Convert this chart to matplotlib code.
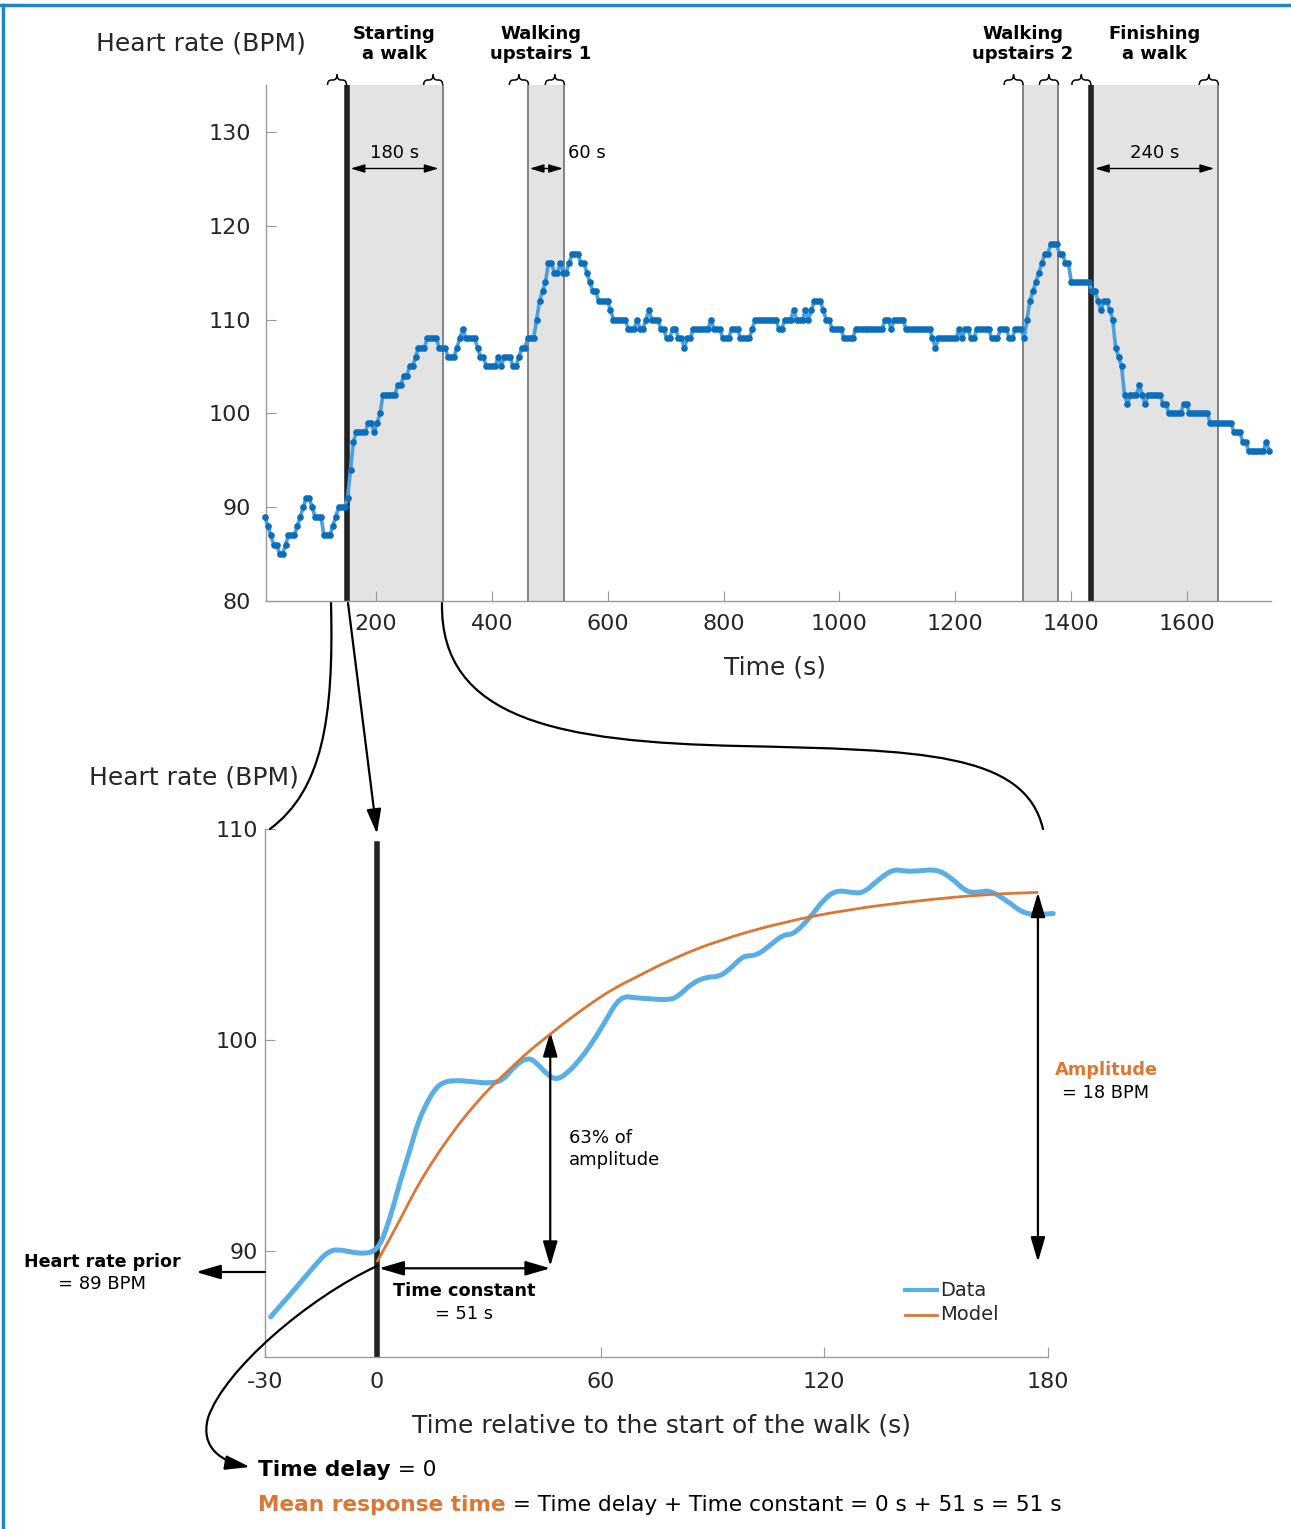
import numpy as np
import matplotlib
matplotlib.use('Agg')
import matplotlib.pyplot as plt
from matplotlib.path import Path
from matplotlib.patches import FancyArrowPatch, PathPatch
from matplotlib.lines import Line2D

W, H = 1291, 1529

# ---- top panel: whole walk, heart rate held at integer levels (level, number of samples)
hr_levels = [89, 88, 87, 86, 85, 86, 87, 88, 89, 90, 91, 90, 89, 87, 88, 89, 90, 91, 94, 97,
             98, 99, 98, 99, 100, 102, 103, 104, 105, 106, 107, 108, 107, 106, 107, 108, 109, 108, 107, 106,
             105, 106, 105, 106, 105, 106, 107, 108, 110, 112, 113, 114, 116, 115, 116, 115, 116, 117,
             116, 115, 114, 113, 112, 111, 110, 109, 110, 109, 110, 111, 110, 109, 108, 109, 108, 107, 108, 109,
             110, 109, 108, 109, 108, 109, 110, 109, 110, 111, 110, 111, 110, 111, 112, 111, 110, 109, 108, 109,
             110, 109, 110, 109, 108, 107, 108, 109, 108, 109, 108, 109, 108, 109, 108, 109, 108,
             110, 112, 113, 114, 115, 116, 117, 118, 117, 116, 114, 113, 112, 111, 112, 111, 110, 107, 106, 105,
             102, 101, 102, 103, 102, 101, 102, 101, 100, 101, 100, 99, 98, 97, 96, 97, 96]
hr_counts = [1, 1, 1, 2, 2, 1, 3, 1, 1, 1, 2, 1, 3, 3, 1, 1, 3, 1, 1, 1,
             4, 2, 1, 1, 1, 5, 2, 2, 2, 1, 3, 4, 3, 3, 1, 1, 1, 4, 1, 2,
             4, 1, 1, 3, 2, 1, 2, 3, 1, 1, 1, 1, 2, 2, 1, 2, 1, 3,
             2, 1, 1, 2, 4, 1, 5, 3, 1, 2, 1, 1, 3, 2, 2, 2, 2, 1, 2, 6,
             1, 3, 3, 3, 4, 1, 8, 2, 3, 1, 3, 1, 1, 1, 3, 1, 2, 4, 4, 10,
             2, 1, 4, 9, 1, 1, 7, 1, 1, 2, 2, 5, 3, 3, 2, 3, 1,
             1, 1, 1, 1, 1, 1, 2, 3, 2, 2, 7, 2, 1, 1, 2, 1, 1, 1, 1, 1,
             1, 1, 3, 1, 1, 1, 5, 2, 5, 2, 7, 8, 3, 2, 6, 1, 1]
first_sample_s = 8.0
sample_step_s = 5.1

seg_start = [149, 463, 1317, 1434]
seg_end = [315, 525, 1378, 1654]
seg_names = ['Starting\na walk', 'Walking\nupstairs 1', 'Walking\nupstairs 2', 'Finishing\na walk']
seg_lengths = ['180 s', '60 s', '', '240 s']

# ---- bottom panel: first 180 s of the walk, smoothed data and fitted model
rel_t = [-28.5, -22, -15.4, -12.9, -10.5, -6.5, -3.1, -0.9, 0.8, 2.4, 4.4, 6.2, 8.9, 11.0, 13.3,
         15.6, 17.7, 20.5, 25.0, 30.3, 33.9, 37.0, 40.6, 43.0, 45.5, 48.2, 51.5, 54.5, 57.1, 61.0,
         65.2, 69.7, 74.0, 78.6, 81.0, 84.5, 88.4, 92.0, 95.5, 98.3, 101.8, 105.5, 109.0, 111.7, 116.2,
         120.0, 123.3, 127.0, 130.4, 134.5, 138.5, 141.5, 144.8, 150.1, 154.0, 158.2, 161.5, 164.4, 169.0,
         173.4, 177.5, 181.4]
rel_hr = [86.9, 88.2, 89.6, 90.0, 90.1, 89.95, 89.9, 90.0, 90.3, 91.0, 92.1, 93.3, 94.8, 96.1, 97.0,
          97.7, 98.0, 98.1, 98.05, 97.95, 98.1, 98.8, 99.2, 98.9, 98.4, 98.1, 98.5, 99.1, 99.7, 100.8,
          102.1, 102.0, 101.95, 101.9, 102.1, 102.7, 103.0, 103.0, 103.5, 104.0, 104.0, 104.5, 105.0, 105.0, 105.8,
          106.7, 107.1, 107.0, 106.95, 107.6, 108.1, 108.0, 108.0, 108.1, 107.7, 107.0, 107.0, 107.1, 106.6,
          106.0, 105.95, 106.0]
model_t = [0, 3.5, 7.1, 10, 13.3, 17, 21.4, 26, 31.2, 35.5, 40.2, 47.3, 52, 57.1, 63, 69.7, 78.6,
           91.1, 109, 126.9, 144.8, 162.6, 177.4]
model_hr = [89.5, 90.6, 91.8, 92.8, 93.8, 94.8, 95.9, 96.9, 97.9, 98.6, 99.4, 100.4, 101.05, 101.7, 102.4,
            103.0, 103.8, 104.7, 105.6, 106.2, 106.6, 106.9, 107.0]
hr_prior = 89.2
pct63_t = 46.5
pct63_top = 100.4
amp_t = 177.3
amp_top = 107.0

BLUE_LINE = '#4a9fdc'
BLUE_DOT = '#0a6ebd'
ORANGE = '#dc7633'
GRAY = '#999999'
TXT = '#262626'

plt.rcParams['font.family'] = 'DejaVu Sans'
plt.rcParams['axes.unicode_minus'] = False
fig = plt.figure(figsize=(W / 100, H / 100), dpi=100)


def P(x, y):
    return (x / W, 1 - y / H)


def style(ax, pad_x, pad_y):
    for s in ['top', 'right']:
        ax.spines[s].set_visible(False)
    for s in ['left', 'bottom']:
        ax.spines[s].set_color(GRAY)
        ax.spines[s].set_linewidth(1.0)
    ax.tick_params(direction='in', length=7, color=GRAY, labelsize=16, labelcolor=TXT)
    ax.tick_params(axis='x', pad=pad_x)
    ax.tick_params(axis='y', pad=pad_y)


def smooth_line(ax, xs, ys, **kw):
    # quadratic bezier through the midpoints, read points act as control points
    pts = list(zip(xs, ys))
    verts = [pts[0]]
    codes = [Path.MOVETO]
    for i in range(1, len(pts) - 1):
        mid = ((pts[i][0] + pts[i + 1][0]) / 2, (pts[i][1] + pts[i + 1][1]) / 2)
        verts += [pts[i], mid]
        codes += [Path.CURVE3, Path.CURVE3]
    verts.append(pts[-1])
    codes.append(Path.LINETO)
    patch = PathPatch(Path(verts, codes), fill=False, transform=ax.transData, **kw)
    ax.add_patch(patch)


# ================= top panel =================
ax1 = fig.add_axes([266 / W, 1 - 601 / H, (1271 - 266) / W, (601 - 85) / H])
ax1.set_xlim(10, 1745)
ax1.set_ylim(80, 135)
ax1.set_xticks(range(200, 1601, 200))
ax1.set_yticks(range(80, 131, 10))
style(ax1, 9.5, 11)

for a, b in zip(seg_start, seg_end):
    ax1.axvspan(a, b, color='#e3e3e3', lw=0, zorder=0)
    for x in (a, b):
        ax1.axvline(x, color='#7a7a7a', lw=1.3, zorder=1)
for x in (seg_start[0], seg_start[3]):
    ax1.axvline(x, color='#222222', lw=4, zorder=2)

hr_t = first_sample_s + sample_step_s * np.arange(sum(hr_counts))
hr_v = np.repeat(hr_levels, hr_counts)
ax1.plot(hr_t, hr_v, color=BLUE_LINE, lw=2.6, zorder=4, clip_on=False)
ax1.plot(hr_t, hr_v, 'o', color=BLUE_DOT, ms=4.8, mew=0, zorder=5, clip_on=False)

top_arrow = dict(arrowstyle='<|-|>,head_length=0.6,head_width=0.18', mutation_scale=14,
                 lw=1, color='k')
for a, b, lab in zip(seg_start, seg_end, seg_lengths):
    if not lab:
        continue
    sh = 1 if b - a < 100 else 3
    ax1.annotate('', xy=(b, 126.1), xytext=(a, 126.1),
                 arrowprops=dict(top_arrow, shrinkA=sh, shrinkB=sh))
    if b - a < 100:
        ax1.text(b + 6, 127.8, lab, ha='left', va='center', fontsize=13)
    else:
        ax1.text((a + b) / 2, 127.8, lab, ha='center', va='center', fontsize=13)

# braces above each segment boundary
for x in seg_start + seg_end:
    xr = ax1.transData.transform((x, 100))[0]
    xl = xr - 19
    xc = xr - 9.5
    yb, ym, yt = 85, 80, 74.5
    verts = [(xl, yb), (xl, ym), (xl + 4, ym), (xc - 4, ym), (xc, ym), (xc, yt),
             (xc, ym), (xc + 4, ym), (xr - 4, ym), (xr, ym), (xr, yb)]
    codes = [Path.MOVETO, Path.CURVE3, Path.CURVE3, Path.LINETO, Path.CURVE3, Path.CURVE3,
             Path.CURVE3, Path.CURVE3, Path.LINETO, Path.CURVE3, Path.CURVE3]
    fig.add_artist(PathPatch(Path([P(*v) for v in verts], codes), fill=False, lw=1.1,
                             color='k', transform=fig.transFigure))

for xc, name in zip([394, 541, 1023, 1155], seg_names):
    fig.text(*P(xc, 44), name, ha='center', va='center', fontsize=13, fontweight='bold')

fig.text(*P(201, 43), 'Heart rate (BPM)', ha='center', va='center', fontsize=18, color=TXT)
fig.text(*P(775, 667), 'Time (s)', ha='center', va='center', fontsize=18, color=TXT)

# ================= bottom panel =================
ax2 = fig.add_axes([265 / W, 1 - 1357 / H, (1048 - 265) / W, (1357 - 829) / H])
ax2.set_xlim(-30, 180)
ax2.set_ylim(85, 110)
ax2.set_xticks([-30, 0, 60, 120, 180])
ax2.set_yticks([90, 100, 110])
style(ax2, 10.5, 5)

ax2.plot([0, 0], [85, 109.3], color='#222222', lw=4, zorder=2)
smooth_line(ax2, rel_t, rel_hr, color='#5aaee6', lw=3.6, zorder=3, clip_on=False, capstyle='round')
smooth_line(ax2, model_t, model_hr, color=ORANGE, lw=2, zorder=4)

big_arrow = dict(arrowstyle='<|-|>,head_length=0.75,head_width=0.22', mutation_scale=20,
                 lw=1.6, color='k', shrinkA=0, shrinkB=0)
ax2.annotate('', xy=(pct63_t, hr_prior), xytext=(0.6, hr_prior), arrowprops=big_arrow)
ax2.annotate('', xy=(pct63_t, pct63_top), xytext=(pct63_t, hr_prior + 0.1), arrowprops=big_arrow)
ax2.annotate('', xy=(amp_t, amp_top), xytext=(amp_t, hr_prior + 0.3), arrowprops=big_arrow)

one_arrow = dict(big_arrow, arrowstyle='-|>,head_length=0.75,head_width=0.22')
fig.add_artist(FancyArrowPatch(posA=P(265, 1272), posB=P(196, 1272), transform=fig.transFigure,
                               **one_arrow))

fig.text(*P(102, 1262), 'Heart rate prior', ha='center', va='center', fontsize=12.6, fontweight='bold')
fig.text(*P(102, 1284), '= 89 BPM', ha='center', va='center', fontsize=13)
fig.text(*P(464, 1291), 'Time constant', ha='center', va='center', fontsize=12.8, fontweight='bold')
fig.text(*P(464, 1314), '= 51 s', ha='center', va='center', fontsize=12.8)
fig.text(*P(569, 1149), '63% of\namplitude', ha='left', va='center', fontsize=13, linespacing=1.25)
fig.text(*P(1106, 1070), 'Amplitude', ha='center', va='center', fontsize=12.8, fontweight='bold',
         color=ORANGE)
fig.text(*P(1106, 1093), '= 18 BPM', ha='center', va='center', fontsize=12.8)

# legend
for y, col, lw, lab in [(1290, '#5aaee6', 3, 'Data'), (1315, ORANGE, 2, 'Model')]:
    fig.add_artist(Line2D([905 / W, 937 / W], [1 - y / H, 1 - y / H], color=col, lw=lw))
    fig.text(*P(940, y), lab, ha='left', va='center', fontsize=14, color=TXT)

fig.text(*P(194, 778), 'Heart rate (BPM)', ha='center', va='center', fontsize=18, color=TXT)
fig.text(*P(662, 1425), 'Time relative to the start of the walk (s)', ha='center', va='center',
         fontsize=18, color=TXT)

# formulas under the chart
renderer = fig.canvas.get_renderer()


def run_text(x, y, parts):
    for s, kw in parts:
        t = fig.text(x / W, 1 - y / H, s, ha='left', va='baseline', fontsize=15.6, **kw)
        x = t.get_window_extent(renderer).x1


run_text(258, 1476, [('Time delay', dict(fontweight='bold')), (' = 0', {})])
run_text(258, 1511, [('Mean response time', dict(fontweight='bold', color=ORANGE)),
                     (' = Time delay + Time constant = 0 s + 51 s = 51 s', {})])

# ================= connectors between panels =================
C4 = Path.CURVE4
curves = [
    ([(331, 603), (334, 720), (322, 790), (270, 829)], [Path.MOVETO, C4, C4, C4], '-'),
    ([(442, 603), (440, 720), (560, 742), (740, 746), (920, 750), (1025, 752), (1043, 829)],
     [Path.MOVETO, C4, C4, C4, C4, C4, C4], '-'),
    ([(377, 1266), (308, 1298), (224, 1370), (208, 1418), (200, 1448), (222, 1462), (250, 1467)],
     [Path.MOVETO, C4, C4, C4, C4, C4, C4], '-|>,head_length=0.75,head_width=0.22'),
]
for pts, codes, st in curves:
    fig.add_artist(FancyArrowPatch(path=Path([P(*p) for p in pts], codes), arrowstyle=st,
                                   mutation_scale=20, lw=1.6, color='k', shrinkA=0, shrinkB=0,
                                   transform=fig.transFigure))
fig.add_artist(FancyArrowPatch(posA=P(348, 603), posB=P(377, 834), transform=fig.transFigure,
                               **one_arrow))

# blue frame
fig.add_artist(Line2D([0, 1], [1 - 5 / H, 1 - 5 / H], color='#1f87c9', lw=2.5))
fig.add_artist(Line2D([3 / W, 3 / W], [0, 1 - 5 / H], color='#1f87c9', lw=2.5))

fig.savefig('out.png', dpi=100)
